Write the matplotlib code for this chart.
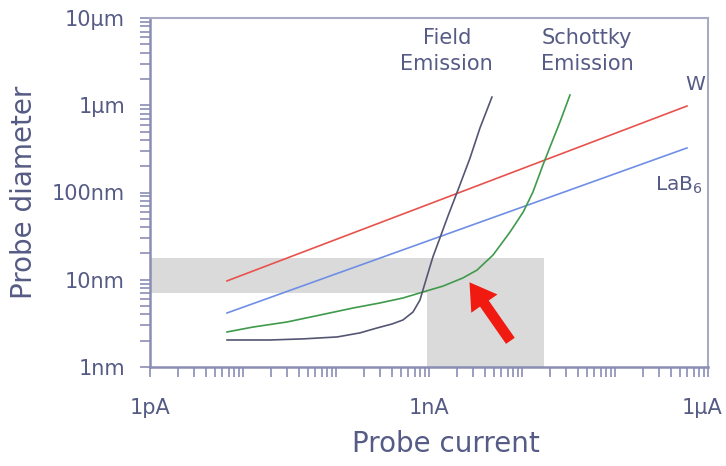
import matplotlib
matplotlib.use('Agg')
import matplotlib.pyplot as plt
import matplotlib.transforms as mtransforms
import numpy as np

# probe current (A) and probe diameter (m)
w_x = [6.73e-12, 5.94e-7]
w_y = [9.7e-9, 9.8e-7]

lab6_x = [6.73e-12, 5.94e-7]
lab6_y = [4.16e-9, 3.24e-7]

schottky_x = [6.73e-12, 1.28e-11, 2.97e-11, 6.73e-11, 1.52e-10, 2.97e-10, 5.25e-10,
              8.61e-10, 1.42e-9, 2.32e-9, 3.28e-9, 4.88e-9, 7.43e-9, 1.03e-8,
              1.31e-8, 1.68e-8, 2.00e-8, 2.56e-8, 3.28e-8]
schottky_y = [2.52e-9, 2.87e-9, 3.28e-9, 3.94e-9, 4.74e-9, 5.42e-9, 6.18e-9,
              7.24e-9, 8.47e-9, 1.05e-8, 1.29e-8, 1.92e-8, 3.52e-8, 5.97e-8,
              1.01e-7, 2.07e-7, 3.32e-7, 6.43e-7, 1.31e-6]

fe_x = [6.73e-12, 1.95e-11, 4.42e-11, 1.03e-10, 1.81e-10, 2.76e-10, 4.00e-10,
        5.25e-10, 6.73e-10, 8.00e-10, 8.61e-10, 9.75e-10, 1.10e-9, 1.31e-9,
        1.60e-9, 2.05e-9, 2.76e-9, 3.53e-9, 4.75e-9]
fe_y = [2.04e-9, 2.04e-9, 2.10e-9, 2.21e-9, 2.46e-9, 2.80e-9, 3.11e-9,
        3.46e-9, 4.27e-9, 5.86e-9, 7.64e-9, 1.19e-8, 1.82e-8, 3.01e-8,
        5.38e-8, 1.07e-7, 2.48e-7, 5.48e-7, 1.24e-6]

band_y = [7.0e-9, 1.78e-8]      # horizontal grey band
box_x = [9.5e-10, 1.73e-8]      # vertical grey box

arrow_tail = (7.8e-9, 1.88e-9)
arrow_head = (2.62e-9, 9.93e-9)

xticks = [1e-12, 1e-9, 1e-6]
xticklabels = ['1pA', '1nA', '1\u03bcA']
yticks = [1e-9, 1e-8, 1e-7, 1e-6, 1e-5]
yticklabels = ['1nm', '10nm', '100nm', '1\u03bcm', '10\u03bcm']

txt = '#565b85'
axc = '#8a8db4'

plt.rcParams['font.family'] = ['DejaVu Sans']

fig = plt.figure(figsize=(7.26, 4.66), dpi=100)
ax = fig.add_axes([150/726, 1-367/466, 558/726, 349/466])
ax.set_xscale('log')
ax.set_yscale('log')
ax.set_xlim(1e-12, 1e-6)
ax.set_ylim(1e-9, 1e-5)

# grey regions
ax.fill_between([1e-12, box_x[1]], band_y[0], band_y[1], color='#dadada', lw=0, zorder=0)
ax.fill_between(box_x, 1e-9, band_y[1], color='#dadada', lw=0, zorder=0)

ax.plot(w_x, w_y, color='#e8524c', lw=1.2)
ax.plot(lab6_x, lab6_y, color='#6f8fe6', lw=1.2)
ax.plot(schottky_x, schottky_y, color='#3f9a4c', lw=1.2)
ax.plot(fe_x, fe_y, color='#545672', lw=1.2)

ax.annotate('', xy=arrow_head, xytext=arrow_tail,
            arrowprops=dict(arrowstyle='simple,head_length=1.1,head_width=1.35,tail_width=0.45',
                            color='#f01a10', lw=0, mutation_scale=17))

ax.text(0.532, 0.905, 'Field\nEmission', transform=ax.transAxes, ha='center', va='center',
        fontsize=15, color=txt, linespacing=1.35)
ax.text(0.783, 0.905, 'Schottky\nEmission', transform=ax.transAxes, ha='center', va='center',
        fontsize=15, color=txt, linespacing=1.35)
ax.text(0.977, 0.81, 'W', transform=ax.transAxes, ha='center', va='center',
        fontsize=14.5, color=txt)
ax.text(0.948, 0.521, 'LaB$_6$', transform=ax.transAxes, ha='center', va='center',
        fontsize=14.5, color=txt)

ax.set_xticks(xticks)
ax.set_xticklabels(xticklabels)
ax.set_yticks(yticks)
ax.set_yticklabels(yticklabels)
ax.xaxis.set_minor_locator(matplotlib.ticker.LogLocator(base=10, subs=np.arange(1, 10)))
ax.xaxis.set_minor_formatter(matplotlib.ticker.NullFormatter())
ax.yaxis.set_minor_locator(matplotlib.ticker.LogLocator(base=10, subs=np.arange(2, 10)))
ax.yaxis.set_minor_formatter(matplotlib.ticker.NullFormatter())
ax.tick_params(which='both', direction='out', length=7, width=1.2, color=axc,
               labelcolor=txt, labelsize=15)
ax.tick_params(axis='x', which='both', pad=15)
ax.tick_params(axis='y', which='both', pad=11)

# nudge the last x label so it stays inside the figure
lbl = ax.get_xticklabels()[-1]
lbl.set_transform(lbl.get_transform() + mtransforms.ScaledTranslation(-6/100, 0, fig.dpi_scale_trans))

for s in ['left', 'bottom']:
    ax.spines[s].set_color(axc)
    ax.spines[s].set_linewidth(1.8)
for s in ['top', 'right']:
    ax.spines[s].set_color('#a9abc6')
    ax.spines[s].set_linewidth(1.5)

ax.set_xlabel('Probe current', fontsize=20, color=txt)
ax.xaxis.set_label_coords(0.53, -0.18)
ax.set_ylabel('Probe diameter', fontsize=20, color=txt)
ax.yaxis.set_label_coords(-0.2, 0.5)

fig.savefig('out.png', dpi=100)
